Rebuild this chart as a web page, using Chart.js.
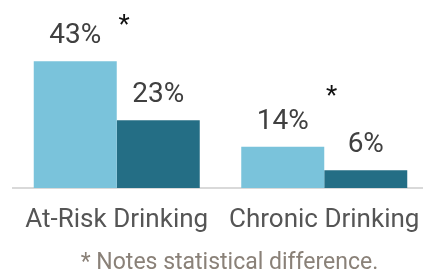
<!DOCTYPE html>
<html>
<head>
<meta charset="utf-8">
<script src="https://cdn.jsdelivr.net/npm/chart.js@4"></script>
<style>
html,body{margin:0;padding:0;background:#fff;overflow:hidden;}
#wrap{width:423px;height:271px;position:relative;overflow:hidden;}
canvas{display:block;}
</style>
</head>
<body>
<div id="wrap"><canvas id="c" width="428" height="271"></canvas></div>
<script>
const categories = ["At-Risk Drinking", "Chronic Drinking"];
const seriesA = [43, 14];
const seriesB = [23, 6];
const significant = [true, true];
const sigLevel = [57, 33];
const footnote = "* Notes statistical difference.";

const FONT = "Roboto, 'Liberation Sans', sans-serif";

const labelPlugin = {
  id: 'labels',
  afterDraw(chart) {
    const ctx = chart.ctx;
    ctx.save();
    ctx.font = "28px " + FONT;
    ctx.fillStyle = "#404040";
    ctx.textAlign = "center";
    ctx.textBaseline = "alphabetic";
    chart.data.datasets.forEach((ds, di) => {
      const meta = chart.getDatasetMeta(di);
      meta.data.forEach((bar, i) => {
        ctx.fillText(ds.data[i] + "%", bar.x, bar.y - 18);
      });
    });
    const yScale = chart.scales.y;
    const xScale = chart.scales.x;
    const m0 = chart.getDatasetMeta(0);
    ctx.font = "26px " + FONT;
    ctx.fillStyle = "#111111";
    significant.forEach((s, i) => {
      if (!s) return;
      const bw = m0.data[i].width;
      const cx = xScale.getPixelForValue(i) + bw * 0.09;
      const cy = yScale.getPixelForValue(sigLevel[i]);
      const m = ctx.measureText("*");
      const y = cy + (m.actualBoundingBoxAscent - m.actualBoundingBoxDescent) / 2;
      ctx.fillText("*", cx, y);
    });
    // footnote, centred under the plot
    const a = chart.chartArea;
    ctx.font = "23px " + FONT;
    ctx.fillStyle = "#8A8178";
    ctx.fillText(footnote, (a.left + a.right) / 2 + 9, chart.height - 2);
    ctx.restore();
  }
};

new Chart(document.getElementById('c'), {
  type: 'bar',
  data: {
    labels: categories,
    datasets: [
      { data: seriesA, backgroundColor: "#7AC3DB", borderWidth: 0, categoryPercentage: 0.8, barPercentage: 1.0 },
      { data: seriesB, backgroundColor: "#246E85", borderWidth: 0, categoryPercentage: 0.8, barPercentage: 1.0 }
    ]
  },
  options: {
    responsive: false,
    animation: false,
    devicePixelRatio: 1,
    layout: { padding: { left: 13, right: 0, top: 11, bottom: 0 } },
    plugins: {
      legend: { display: false },
      tooltip: { enabled: false },
      title: { display: false }
    },
    scales: {
      x: {
        grid: { display: false, drawTicks: false },
        border: { display: true, color: "#D9D9D9", width: 2 },
        ticks: { color: "#555555", font: { family: FONT, size: 26, lineHeight: 2.1 }, padding: 5, maxRotation: 0, autoSkip: false },
        afterFit(scale) { scale.height = 83; }
      },
      y: {
        display: false,
        min: 0,
        max: 60
      }
    }
  },
  plugins: [labelPlugin]
});
</script>
</body>
</html>
